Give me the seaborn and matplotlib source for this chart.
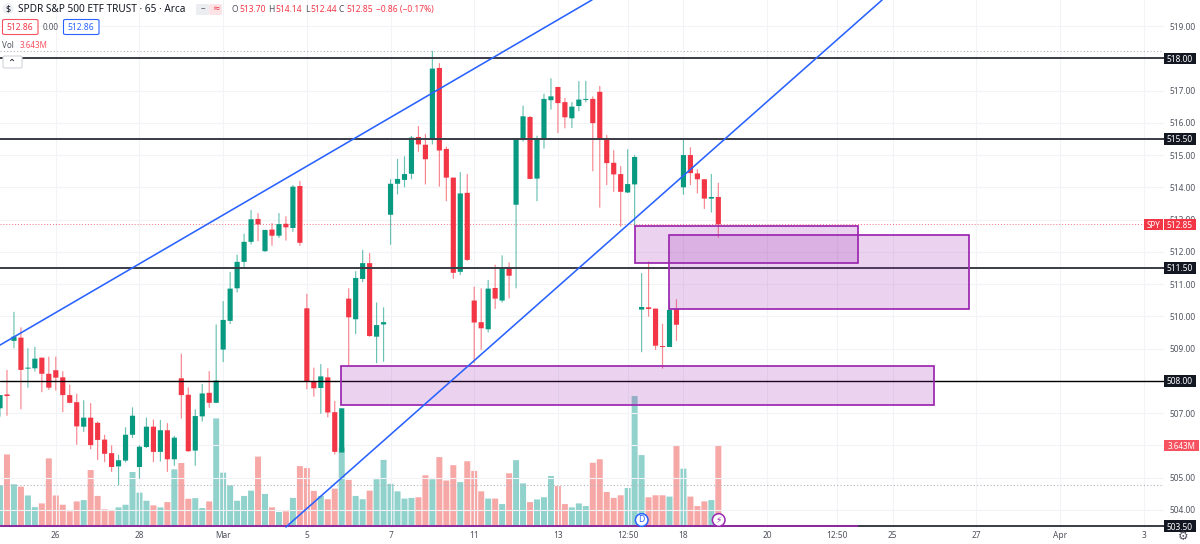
import matplotlib
matplotlib.use("Agg")
import matplotlib.pyplot as plt
from matplotlib.patches import Rectangle, Ellipse, FancyBboxPatch
import numpy as np
import pandas as pd
import seaborn as sns

opens = [507.15,507.58,509.24,509.34,508.38,508.39,508.72,508.22,508.33,508.11,507.56,507.34,506.58,506.86,506.70,506.18,505.76,505.35,505.53,506.33,505.33,505.95,506.58,505.80,506.47,505.57,508.08,507.57,505.84,506.90,507.63,507.32,508.97,509.86,510.87,
511.69,512.31,513.02,512.02,512.69,512.50,512.87,512.74,514.04,510.25,507.98,507.78,508.11,507.03,505.78,510.55,509.91,511.16,511.65,509.37,509.75,
513.15,514.11,514.23,514.42,515.56,515.32,515.49,517.70,515.19,514.30,511.38,513.83,510.49,509.82,509.60,510.88,510.49,511.51,513.46,515.50,516.18,514.27,515.50,516.70,517.11,516.64,516.14,516.52,516.71,516.74,516.96,515.52,514.76,514.41,513.84,514.09,
510.21,510.28,510.24,509.07,509.05,510.22,514.00,515.00,514.43,514.25,513.65,513.70]
closes = [507.56,507.53,509.37,508.34,508.41,508.69,508.22,507.79,508.10,507.56,507.32,506.59,506.86,506.01,506.17,505.74,505.33,505.54,506.33,506.92,505.96,506.58,505.80,506.47,505.57,506.24,507.56,505.82,506.91,507.61,507.32,508.01,509.89,510.86,511.69,
512.31,513.01,512.85,512.68,512.50,512.86,512.76,514.02,512.28,507.98,507.77,508.14,507.02,505.80,507.15,509.97,511.19,511.65,509.39,509.73,509.82,
514.11,514.26,514.41,515.54,515.33,514.87,517.68,515.14,514.30,511.35,513.81,511.75,509.81,509.63,510.86,510.55,511.51,511.26,515.52,516.20,514.26,515.50,516.74,516.82,516.61,516.17,516.50,516.72,516.74,515.99,515.50,514.75,514.40,513.86,514.10,514.94,
510.29,510.23,509.09,509.05,510.20,509.74,515.00,514.44,514.25,513.65,513.70,512.85]
highs = [507.56,508.34,510.14,509.66,509.01,509.06,508.72,508.75,508.75,508.30,507.88,507.60,507.40,507.31,506.74,506.33,506.00,505.71,506.56,507.18,506.00,506.86,506.80,506.79,506.69,506.30,508.84,507.80,507.12,507.90,508.30,509.75,510.47,511.38,511.91,
512.56,513.30,513.20,512.68,512.89,513.20,513.10,514.07,514.20,510.70,508.41,508.52,508.39,507.38,507.15,510.87,511.40,512.06,511.96,510.43,510.28,
514.25,514.88,514.96,515.59,515.90,515.65,518.23,517.85,515.26,514.30,514.47,514.41,510.92,510.87,511.13,511.60,511.89,511.67,515.52,516.53,516.21,515.60,516.90,517.38,517.11,516.77,516.64,517.29,517.30,516.82,517.14,515.62,515.15,514.66,515.18,515.00,
511.34,511.70,510.24,509.77,510.53,510.53,515.49,515.24,514.56,514.25,514.41,514.14]
lows = [506.89,506.92,509.01,507.12,507.79,508.29,507.65,507.72,507.70,507.03,507.31,506.02,506.42,505.88,505.55,505.48,505.18,504.76,505.47,506.23,504.97,505.92,505.48,505.50,505.18,505.37,506.83,505.80,505.37,506.74,507.17,507.31,508.58,509.76,510.74,
511.52,512.23,512.33,512.00,512.19,512.43,512.35,512.62,512.19,507.74,507.51,506.98,506.87,505.72,505.78,508.46,509.45,511.06,509.37,508.55,508.59,
512.22,513.78,514.00,514.25,515.10,514.09,515.33,514.02,513.57,511.16,511.28,511.72,508.55,508.96,509.50,510.23,510.43,510.56,510.87,515.42,514.25,513.57,515.20,516.41,515.68,515.83,515.84,516.36,516.64,514.50,513.37,514.07,513.86,512.78,513.82,512.78,
508.89,509.99,508.96,508.38,509.05,509.24,513.77,514.07,513.81,513.33,513.22,512.44]
volumes = [1.85,3.26,1.90,1.79,1.39,0.86,1.03,3.08,1.39,0.97,0.67,1.12,1.18,2.55,1.37,0.76,0.73,0.85,0.97,2.46,1.52,1.15,0.94,0.85,1.09,2.58,2.87,1.24,1.27,0.82,1.12,4.90,2.43,1.85,1.15,
1.37,1.61,3.16,1.46,0.85,0.64,0.67,1.28,2.73,2.64,1.60,1.37,1.22,1.70,3.58,2.10,1.37,1.22,1.61,2.13,3.01,1.92,1.58,1.25,1.28,1.31,2.31,2.13,3.14,2.07,2.77,2.00,2.95,2.51,1.58,1.25,1.25,
1.00,2.40,3.00,1.94,1.09,1.21,1.31,2.28,1.82,1.00,0.85,1.03,0.91,2.88,3.04,1.55,1.28,1.40,1.73,5.92,3.23,1.31,1.40,1.40,1.34,3.69,2.61,1.34,0.91,1.12,1.18,3.643]

level_prices = [518.0, 515.5, 511.5, 508.0, 503.5]
level_labels = ["518.00", "515.50", "511.50", "508.00", "503.50"]
price_ticks = [519, 518, 517, 516, 515, 514, 513, 512, 511, 510, 509, 508, 507, 506, 505, 504]
hidden_ticks = [518, 508, 506]
date_pos = [8, 20, 32, 44, 56, 68, 80, 90, 98, 110, 120, 128, 140, 152, 164]
date_labels = ["26", "28", "Mar", "5", "7", "11", "13", "12:50", "18", "20", "12:50", "25", "27", "Apr", "3"]
zones_x = [(91.05, 123.03), (95.93, 138.94), (48.9, 133.9)]
zones_y = [(511.66, 512.80), (510.23, 512.52), (507.26, 508.46)]
trend_x = [(0, 84.9), (41.0, 126.5)]
trend_y = [(509.11, 519.81), (503.47, 519.81)]

UP, DOWN = "#089981", "#F23645"
VUP, VDOWN = "#26A69A", "#EF5350"
INK = "#131722"
GREY = "#50535E"

sns.set_theme(style="white")
plt.rcParams["font.family"] = ["Noto Sans", "DejaVu Sans"]

W, H = 1200, 544
fig = plt.figure(figsize=(12, 5.44), dpi=100, facecolor="white")
ax = fig.add_axes([0, 16 / H, 1164 / W, 528 / H])
ax_vol = ax.twinx()
ax.set_zorder(2)
ax_vol.set_zorder(1)
ax.patch.set_visible(False)

df = pd.DataFrame({"bar": np.arange(len(opens)), "open": opens, "high": highs,
                   "low": lows, "close": closes, "volume": volumes})
df["side"] = np.where(df["close"] >= df["open"], "up", "down")

sns.barplot(data=df, x="bar", y="volume", hue="side", palette={"up": VUP, "down": VDOWN},
            native_scale=True, dodge=False, width=0.86, saturation=1, alpha=0.5,
            linewidth=0, legend=False, ax=ax_vol)
for p in ax_vol.patches:
    p.set_snap(False)
ax_vol.set_ylim(-0.09, 23.95)
ax_vol.set_yticks([])
ax_vol.set_ylabel("")
ax_vol.set_xlabel("")

col = df["side"].map({"up": UP, "down": DOWN})
wicks = ax.vlines(df["bar"], df["low"], df["high"], colors=col, linewidth=0.85, alpha=0.6, zorder=3)
wicks.set_snap(False)
bodies = ax.bar(df["bar"], (df["close"] - df["open"]).abs().clip(lower=0.03),
                bottom=df[["open", "close"]].min(axis=1), width=0.74, color=col, linewidth=0, zorder=4)
for b in bodies:
    b.set_snap(False)

ax.set_xlim(0, 1164 / 6.974)
ax.set_ylim(503.44, 519.806)

ax.set_xticks(date_pos)
ax.set_xticklabels(date_labels)
ax.set_yticks(price_ticks)
ax.set_yticklabels(["" if p in hidden_ticks else f"{p:.2f}" for p in price_ticks])
ax.yaxis.tick_right()
ax.tick_params(axis="y", length=0, pad=4.3, labelsize=6.0, labelcolor=GREY)
ax.tick_params(axis="x", length=0, pad=2.5, labelsize=6.0, labelcolor=GREY)
ax.grid(True, color="#F2F3F6", linewidth=0.8, zorder=0)
ax.set_axisbelow(True)
for a in (ax, ax_vol):
    for s in a.spines.values():
        s.set_visible(False)

# dotted range and last-price lines
ax.axhline(max(highs), color="#B2B5BE", lw=0.8, ls=(0, (1, 2)), zorder=2)
ax.axhline(min(lows), color="#B2B5BE", lw=0.8, ls=(0, (1, 2)), zorder=2)
ax.plot([0, 164], [closes[-1]] * 2, color=DOWN, lw=0.7, ls=(0, (1, 2)), alpha=0.7, zorder=2)

# horizontal levels
for p in level_prices:
    thin = p == 508.0
    ax.axhline(p, color="#000000" if thin else "#3A3C45", lw=1.0 if thin else 1.4, zorder=5)
ax.plot([0, zones_x[0][1]], [level_prices[-1]] * 2, color="#9C27B0", lw=1.2, zorder=6, solid_capstyle="butt")

# purple zones
for (x0, x1), (y0, y1) in zip(zones_x, zones_y):
    ax.add_patch(Rectangle((x0, y0), x1 - x0, y1 - y0, facecolor=(0.612, 0.153, 0.690, 0.2),
                           edgecolor="#9C27B0", linewidth=1.25, zorder=6))

# trend lines
for xs, ys in zip(trend_x, trend_y):
    ax.plot(xs, ys, color="#2962FF", lw=1.15, zorder=7, clip_on=True)

# right-hand price tags
tr = ax.get_yaxis_transform()
right = 1 + 32 / 1164
def tag(y, s, fc, x0=1.0, x1=right, fs=6.0, weight="bold"):
    ax.add_patch(Rectangle((x0, y - 0.175), x1 - x0, 0.35, transform=tr, facecolor=fc,
                           edgecolor="none", clip_on=False, zorder=20))
    ax.text((x0 + x1) / 2, y, s, transform=tr, color="white", fontsize=fs, fontweight=weight,
            ha="center", va="center_baseline", zorder=21, clip_on=False)
for p, lab in zip(level_prices, level_labels):
    tag(p, lab, INK)
tag(closes[-1], f"{closes[-1]:.2f}", DOWN, fs=6.0, weight="normal")
tag(closes[-1], "SPY", DOWN, x0=1 - 20 / 1164, x1=1 - 1 / 1164, fs=5.8, weight="normal")
tag(506.0, "3.643M", "#F7525F", x1=1 + 35 / 1164, fs=5.8, weight="normal")

# header, in figure pixels
def px(x, y):
    return x / W, 1 - y / H
def t(x, y, s, color=INK, fs=6.4, **kw):
    fig.text(*px(x, y), s, color=color, fontsize=fs, va="center", ha=kw.pop("ha", "left"), zorder=30, **kw)
def box(x0, y0, x1, y1, ec, fc="white", lw=0.8):
    fig.add_artist(FancyBboxPatch(px(x0, y1), (x1 - x0) / W, (y1 - y0) / H,
                                  boxstyle="round,pad=0,rounding_size=0.002",
                                  transform=fig.transFigure, facecolor=fc, edgecolor=ec,
                                  linewidth=lw, zorder=29))
def circ(x, y, r, fc, ec, lw=1.0):
    fig.add_artist(Ellipse(px(x, y), 2 * r / W, 2 * r / H, transform=fig.transFigure,
                           facecolor=fc, edgecolor=ec, linewidth=lw, zorder=29))

circ(8, 8.5, 5.5, "#EFF1F5", "none")
t(8, 8.5, "$", fs=6.4, ha="center", fontweight="bold")
t(17.5, 9, "SPDR S&P 500 ETF TRUST · 65 · Arca", fs=7.25)
box(196, 4, 209, 15, "none", "#ECEDF1")
box(209, 4, 222, 15, "none", "#FBE3E6")
t(202.5, 9, "–", GREY, fs=6.5, ha="center", fontweight="bold")
t(215.5, 9, "≈", DOWN, fs=6.5, ha="center", family="DejaVu Sans")

for x, s, c in [(232, "O", GREY), (239, "513.70", DOWN), (268, "H", GREY), (275.5, "514.14", DOWN),
                (305, "L", GREY), (310.5, "512.44", DOWN), (339, "C", GREY), (346, "512.85", DOWN),
                (376, "−0.86 (−0.17%)", DOWN)]:
    t(x, 9.5, s, c, fs=6.1)

box(2.5, 19.5, 38, 34.5, "#F7525F")
t(20, 27, "512.86", DOWN, ha="center", fs=6.1)
t(51, 27, "0.00", GREY, ha="center", fs=5.8)
box(63.5, 19.5, 99, 34.5, "#2962FF")
t(81, 27, "512.86", "#2962FF", ha="center", fs=6.1)
t(2.5, 46, "Vol", GREY, fs=5.8)
t(20, 46, "3.643M", "#F7525F", fs=5.8)

box(3, 56, 22, 68, "#D1D4DC")
t(12.5, 63, "⌃", INK, ha="center", fs=7, family="DejaVu Sans")

# event badges
circ(641.7, 520, 6.3, "white", "#2962FF", 1.1)
t(641.7, 520, "D", "#2962FF", ha="center", fs=6.2)
circ(718.7, 520, 6.3, "white", "#9C27B0", 1.1)
t(718.7, 520, "⚡", "#9C27B0", ha="center", fs=6.5, family="DejaVu Sans")
t(1183, 537, "⚙", GREY, ha="center", fs=8.5, family="DejaVu Sans")

fig.savefig("out.png", dpi=100, facecolor="white")
